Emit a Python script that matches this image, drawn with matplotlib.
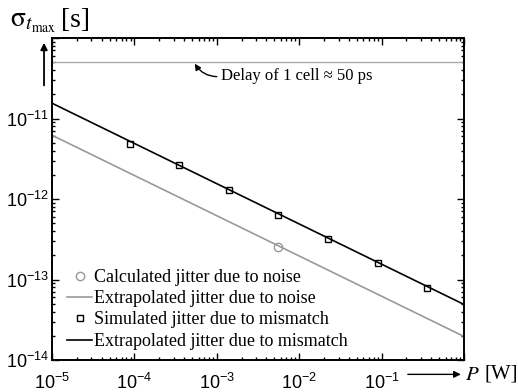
import numpy as np
import matplotlib
matplotlib.use("Agg")
import matplotlib.pyplot as plt
from matplotlib.ticker import LogLocator, NullFormatter, FixedLocator

# data
p_sim = [8.8e-5, 3.5e-4, 1.4e-3, 5.6e-3, 2.25e-2, 9.0e-2, 3.6e-1]
jitter_sim = [4.8e-12, 2.63e-12, 1.28e-12, 6.35e-13, 3.16e-13, 1.59e-13, 7.9e-14]
p_calc = [5.6e-3]
jitter_calc = [2.55e-13]
p_line = [1e-5, 1.0]
mismatch_line = [1.55e-11, 4.9e-14]
noise_line = [6.2e-12, 1.96e-14]
delay_1cell = 5e-11

x_ticks = [1e-5, 1e-4, 1e-3, 1e-2, 1e-1, 1e0]
x_ticklabels = [r"$\mathdefault{10^{-5}}$", r"$\mathdefault{10^{-4}}$", r"$\mathdefault{10^{-3}}$",
                r"$\mathdefault{10^{-2}}$", r"$\mathdefault{10^{-1}}$", ""]
y_ticks = [1e-14, 1e-13, 1e-12, 1e-11, 1e-10]
y_ticklabels = [r"$\mathdefault{10^{-14}}$", r"$\mathdefault{10^{-13}}$", r"$\mathdefault{10^{-12}}$",
                r"$\mathdefault{10^{-11}}$", ""]

plt.rcParams.update({
    "font.family": "Liberation Sans",
    "mathtext.fontset": "stix",
    "font.size": 13,
})
serif = "Liberation Serif"
gray = "#999999"

fig = plt.figure(figsize=(5.18, 3.92), dpi=100)
ax = fig.add_axes([0.1004, 0.0816, 0.7954, 0.8214])

ax.plot(p_line, noise_line, color=gray, linewidth=1.2, label="Extrapolated jitter due to noise")
ax.plot(p_line, mismatch_line, color="black", linewidth=1.2, label="Extrapolated jitter due to mismatch")
ax.plot(p_calc, jitter_calc, linestyle="none", marker="o", markersize=6, markerfacecolor="none",
        markeredgecolor=gray, markeredgewidth=1.0, label="Calculated jitter due to noise")
ax.plot(p_sim, jitter_sim, linestyle="none", marker="s", markersize=4.5, markerfacecolor="none",
        markeredgecolor="black", markeredgewidth=1.0, label="Simulated jitter due to mismatch")
ax.axhline(delay_1cell, color="#aaaaaa", linewidth=1.0)

ax.set_xscale("log")
ax.set_yscale("log")
ax.set_xlim(1e-5, 1)
ax.set_ylim(1e-14, 1e-10)

ax.xaxis.set_major_locator(FixedLocator(x_ticks))
ax.set_xticklabels(x_ticklabels)
ax.yaxis.set_major_locator(FixedLocator(y_ticks))
ax.set_yticklabels(y_ticklabels)
ax.xaxis.set_minor_locator(LogLocator(base=10, subs=np.arange(2, 10), numticks=20))
ax.yaxis.set_minor_locator(LogLocator(base=10, subs=np.arange(2, 10), numticks=20))
ax.xaxis.set_minor_formatter(NullFormatter())
ax.yaxis.set_minor_formatter(NullFormatter())
ax.tick_params(which="both", direction="in", top=True, right=True, width=1.0)
ax.tick_params(which="major", length=5, pad=2)
ax.tick_params(which="minor", length=2.5)
ax.tick_params(axis="x", which="major", pad=9)
for s in ax.spines.values():
    s.set_linewidth(1.4)

# legend in the original order
h, l = ax.get_legend_handles_labels()
order = [2, 0, 3, 1]
ax.legend([h[i] for i in order], [l[i] for i in order], loc="lower left",
          bbox_to_anchor=(0.01, -0.002), frameon=False, prop={"family": serif, "size": 13},
          handlelength=1.4, handletextpad=0.1, labelspacing=0.24, borderaxespad=0.2)

ax.annotate("Delay of 1 cell \u2248 50 ps", xy=(5.4e-4, 4.8e-11), xytext=(1.12e-3, 3.4e-11),
            fontsize=12, family=serif, va="center", ha="left",
            arrowprops=dict(arrowstyle="-|>", color="black", lw=1.0, mutation_scale=9,
                            relpos=(0.0, 0.45), connectionstyle="arc3,rad=-0.3",
                            shrinkA=1, shrinkB=0))

# axis labels with arrows
fig.text(0.020, 0.945, r"$\mathrm{\sigma}_{t_{\mathrm{max}}}$", fontsize=20, ha="left", va="center")
fig.text(0.118, 0.948, "[s]", fontsize=20, family=serif, ha="left", va="center")
fig.add_artist(matplotlib.patches.FancyArrowPatch((0.085, 0.775), (0.085, 0.898),
               transform=fig.transFigure, arrowstyle="-|>", mutation_scale=10, lw=1.3, color="black"))
fig.add_artist(matplotlib.patches.FancyArrowPatch((0.782, 0.045), (0.895, 0.045),
               transform=fig.transFigure, arrowstyle="-|>", mutation_scale=10, lw=1.0, color="black"))
fig.text(0.898, 0.045, "$P$", fontsize=15, ha="left", va="center")
fig.text(0.935, 0.045, "[W]", fontsize=15, family=serif, ha="left", va="center")

fig.savefig("out.png", dpi=100)
